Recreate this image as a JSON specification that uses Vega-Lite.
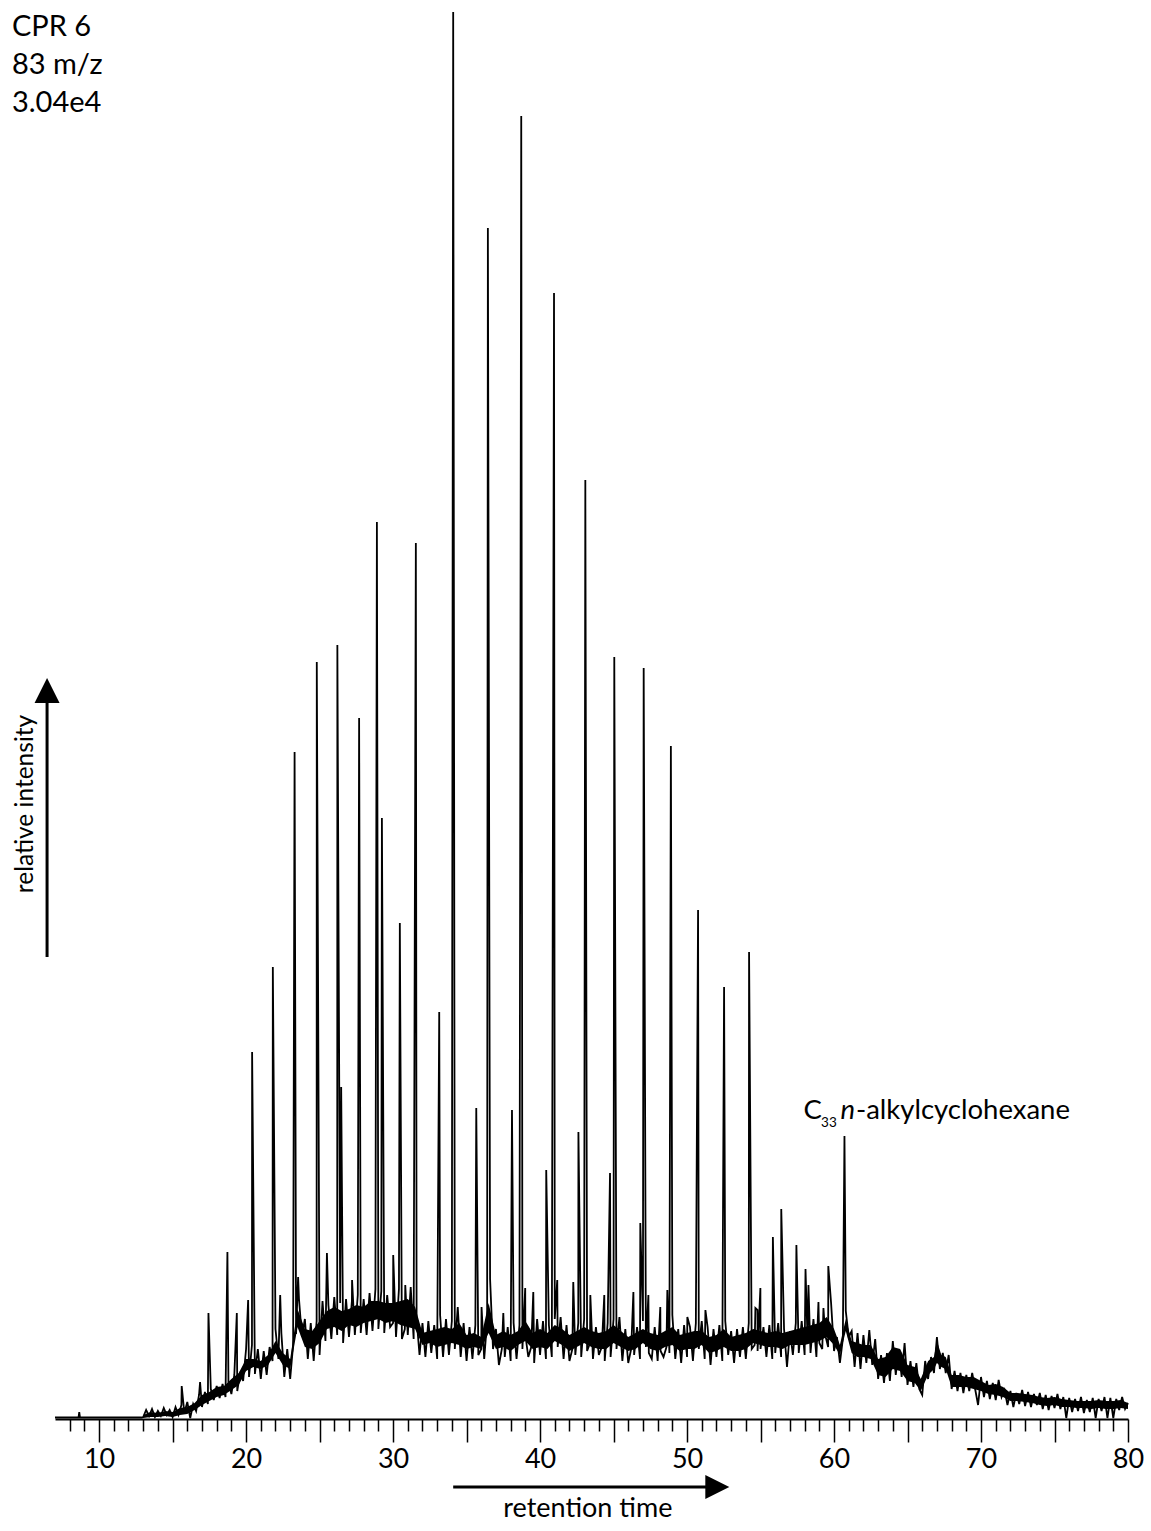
{
  "$schema": "https://vega.github.io/schema/vega-lite/v6.json",
  "width": 1073,
  "height": 1407,
  "autosize": {"type": "none"},
  "padding": {"left": 55, "top": 12, "right": 23, "bottom": 112},
  "background": "white",
  "config": {"view": {"stroke": null}, "font": "Lato"},
  "resolve": {"axis": {"x": "independent", "y": "independent"}},
  "datasets": {
    "core": [
      {"t": 13.0, "lo": 1, "hi": 4}, {"t": 13.5, "lo": 2, "hi": 7}, {"t": 14.0, "lo": 2, "hi": 6}, {"t": 14.5, "lo": 3, "hi": 8},
      {"t": 15.0, "lo": 2, "hi": 7}, {"t": 15.5, "lo": 4, "hi": 11}, {"t": 16.0, "lo": 5, "hi": 12}, {"t": 16.5, "lo": 9, "hi": 16},
      {"t": 17.0, "lo": 14, "hi": 24}, {"t": 17.5, "lo": 18, "hi": 27}, {"t": 18.0, "lo": 22, "hi": 32}, {"t": 18.5, "lo": 24, "hi": 33},
      {"t": 19.0, "lo": 29, "hi": 40}, {"t": 19.5, "lo": 34, "hi": 46}, {"t": 20.0, "lo": 48, "hi": 60}, {"t": 20.5, "lo": 52, "hi": 60},
      {"t": 21.0, "lo": 50, "hi": 58}, {"t": 21.5, "lo": 54, "hi": 64}, {"t": 22.0, "lo": 66, "hi": 78}, {"t": 22.5, "lo": 54, "hi": 66},
      {"t": 23.0, "lo": 50, "hi": 60}, {"t": 23.5, "lo": 92, "hi": 110}, {"t": 24.0, "lo": 72, "hi": 90}, {"t": 24.5, "lo": 70, "hi": 88},
      {"t": 25.0, "lo": 76, "hi": 98}, {"t": 25.5, "lo": 90, "hi": 108}, {"t": 26.0, "lo": 92, "hi": 112}, {"t": 26.5, "lo": 88, "hi": 108},
      {"t": 27.0, "lo": 94, "hi": 110}, {"t": 27.5, "lo": 92, "hi": 114}, {"t": 28.0, "lo": 96, "hi": 112}, {"t": 28.5, "lo": 98, "hi": 118},
      {"t": 29.0, "lo": 100, "hi": 118}, {"t": 29.5, "lo": 96, "hi": 116}, {"t": 30.0, "lo": 98, "hi": 116}, {"t": 30.5, "lo": 94, "hi": 118},
      {"t": 31.0, "lo": 92, "hi": 120}, {"t": 31.5, "lo": 90, "hi": 112}, {"t": 32.0, "lo": 74, "hi": 86}, {"t": 32.5, "lo": 76, "hi": 88},
      {"t": 33.0, "lo": 72, "hi": 90}, {"t": 33.5, "lo": 74, "hi": 92}, {"t": 34.0, "lo": 76, "hi": 90}, {"t": 34.5, "lo": 74, "hi": 96},
      {"t": 35.0, "lo": 70, "hi": 84}, {"t": 35.5, "lo": 72, "hi": 86}, {"t": 36.0, "lo": 70, "hi": 82}, {"t": 36.5, "lo": 86, "hi": 116},
      {"t": 37.0, "lo": 70, "hi": 84}, {"t": 37.5, "lo": 72, "hi": 88}, {"t": 38.0, "lo": 68, "hi": 84}, {"t": 38.5, "lo": 74, "hi": 88},
      {"t": 39.0, "lo": 78, "hi": 98}, {"t": 39.5, "lo": 70, "hi": 86}, {"t": 40.0, "lo": 72, "hi": 90}, {"t": 40.5, "lo": 70, "hi": 86},
      {"t": 41.0, "lo": 78, "hi": 94}, {"t": 41.5, "lo": 74, "hi": 90}, {"t": 42.0, "lo": 68, "hi": 84}, {"t": 42.5, "lo": 72, "hi": 88},
      {"t": 43.0, "lo": 76, "hi": 92}, {"t": 43.5, "lo": 72, "hi": 88}, {"t": 44.0, "lo": 70, "hi": 86}, {"t": 44.5, "lo": 70, "hi": 88},
      {"t": 45.0, "lo": 76, "hi": 94}, {"t": 45.5, "lo": 72, "hi": 88}, {"t": 46.0, "lo": 68, "hi": 82}, {"t": 46.5, "lo": 70, "hi": 86},
      {"t": 47.0, "lo": 76, "hi": 90}, {"t": 47.5, "lo": 70, "hi": 86}, {"t": 48.0, "lo": 68, "hi": 84}, {"t": 48.5, "lo": 72, "hi": 88},
      {"t": 49.0, "lo": 74, "hi": 92}, {"t": 49.5, "lo": 68, "hi": 84}, {"t": 50.0, "lo": 70, "hi": 86}, {"t": 50.5, "lo": 70, "hi": 88},
      {"t": 51.0, "lo": 74, "hi": 88}, {"t": 51.5, "lo": 66, "hi": 82}, {"t": 52.0, "lo": 68, "hi": 84}, {"t": 52.5, "lo": 72, "hi": 90},
      {"t": 53.0, "lo": 68, "hi": 82}, {"t": 53.5, "lo": 68, "hi": 84}, {"t": 54.0, "lo": 70, "hi": 86}, {"t": 54.5, "lo": 76, "hi": 90},
      {"t": 55.0, "lo": 74, "hi": 88}, {"t": 55.5, "lo": 72, "hi": 86}, {"t": 56.0, "lo": 72, "hi": 88}, {"t": 56.5, "lo": 70, "hi": 86},
      {"t": 57.0, "lo": 74, "hi": 88}, {"t": 57.5, "lo": 74, "hi": 90}, {"t": 58.0, "lo": 74, "hi": 92}, {"t": 58.5, "lo": 76, "hi": 94},
      {"t": 59.0, "lo": 78, "hi": 96}, {"t": 59.5, "lo": 82, "hi": 102}, {"t": 60.0, "lo": 74, "hi": 90}, {"t": 60.4, "lo": 64, "hi": 74},
      {"t": 60.8, "lo": 88, "hi": 100}, {"t": 61.2, "lo": 66, "hi": 78}, {"t": 61.6, "lo": 62, "hi": 76}, {"t": 62.0, "lo": 62, "hi": 74},
      {"t": 62.5, "lo": 60, "hi": 74}, {"t": 63.0, "lo": 44, "hi": 60}, {"t": 63.5, "lo": 42, "hi": 62}, {"t": 64.0, "lo": 50, "hi": 72},
      {"t": 64.5, "lo": 48, "hi": 70}, {"t": 65.0, "lo": 38, "hi": 54}, {"t": 65.5, "lo": 36, "hi": 52}, {"t": 65.9, "lo": 28, "hi": 40},
      {"t": 66.4, "lo": 44, "hi": 58}, {"t": 66.8, "lo": 50, "hi": 62}, {"t": 67.0, "lo": 56, "hi": 78}, {"t": 67.3, "lo": 52, "hi": 64},
      {"t": 67.6, "lo": 50, "hi": 62}, {"t": 68.0, "lo": 32, "hi": 44}, {"t": 68.5, "lo": 32, "hi": 44}, {"t": 69.0, "lo": 32, "hi": 42},
      {"t": 69.5, "lo": 30, "hi": 42}, {"t": 70.0, "lo": 28, "hi": 38}, {"t": 70.5, "lo": 25, "hi": 34}, {"t": 71.0, "lo": 24, "hi": 35},
      {"t": 71.5, "lo": 22, "hi": 32}, {"t": 72.0, "lo": 18, "hi": 26}, {"t": 72.5, "lo": 18, "hi": 26}, {"t": 73.0, "lo": 17, "hi": 25},
      {"t": 73.5, "lo": 16, "hi": 24}, {"t": 74.0, "lo": 14, "hi": 22}, {"t": 74.5, "lo": 13, "hi": 21}, {"t": 75.0, "lo": 14, "hi": 22},
      {"t": 75.5, "lo": 12, "hi": 20}, {"t": 76.0, "lo": 12, "hi": 19}, {"t": 76.5, "lo": 11, "hi": 18}, {"t": 77.0, "lo": 11, "hi": 18},
      {"t": 77.5, "lo": 10, "hi": 18}, {"t": 78.0, "lo": 11, "hi": 19}, {"t": 78.5, "lo": 10, "hi": 18}, {"t": 79.0, "lo": 10, "hi": 18},
      {"t": 79.5, "lo": 11, "hi": 19}, {"t": 80.0, "lo": 10, "hi": 16}
    ],
    "trace": [
      {"t": 7.0, "v": 1.5}, {"t": 8.6, "v": 1.5}, {"t": 8.65, "v": 7}, {"t": 8.7, "v": 1.5}, {"t": 12.9, "v": 1.5},
      {"t": 13.0, "v": 2}, {"t": 13.2, "v": 9}, {"t": 13.4, "v": 3}, {"t": 13.6, "v": 10}, {"t": 13.8, "v": 2},
      {"t": 14.0, "v": 8}, {"t": 14.2, "v": 3}, {"t": 14.4, "v": 11}, {"t": 14.6, "v": 4}, {"t": 14.8, "v": 9},
      {"t": 15.0, "v": 2}, {"t": 15.2, "v": 12}, {"t": 15.4, "v": 4}, {"t": 15.6, "v": 14}, {"t": 15.62, "v": 33},
      {"t": 15.8, "v": 6}, {"t": 16.0, "v": 17}, {"t": 16.2, "v": 1}, {"t": 16.4, "v": 15}, {"t": 16.6, "v": 8},
      {"t": 16.8, "v": 24}, {"t": 16.87, "v": 37}, {"t": 17.0, "v": 12}, {"t": 17.2, "v": 27}, {"t": 17.4, "v": 15},
      {"t": 17.44, "v": 106}, {"t": 17.6, "v": 30}, {"t": 17.8, "v": 19}, {"t": 18.0, "v": 33}, {"t": 18.2, "v": 21},
      {"t": 18.4, "v": 35}, {"t": 18.6, "v": 22}, {"t": 18.73, "v": 167}, {"t": 18.8, "v": 37}, {"t": 19.0, "v": 25},
      {"t": 19.2, "v": 44}, {"t": 19.37, "v": 106}, {"t": 19.4, "v": 28}, {"t": 19.6, "v": 47}, {"t": 19.8, "v": 38},
      {"t": 20.0, "v": 70}, {"t": 20.14, "v": 119}, {"t": 20.2, "v": 42}, {"t": 20.4, "v": 74}, {"t": 20.41, "v": 367},
      {"t": 20.6, "v": 45}, {"t": 20.8, "v": 70}, {"t": 21.0, "v": 40}, {"t": 21.2, "v": 68}, {"t": 21.4, "v": 44},
      {"t": 21.6, "v": 72}, {"t": 21.8, "v": 58}, {"t": 21.82, "v": 452}, {"t": 22.0, "v": 90}, {"t": 22.2, "v": 60},
      {"t": 22.32, "v": 124}, {"t": 22.4, "v": 86}, {"t": 22.6, "v": 42}, {"t": 22.8, "v": 70}, {"t": 23.0, "v": 40},
      {"t": 23.2, "v": 74}, {"t": 23.3, "v": 667}, {"t": 23.4, "v": 85}, {"t": 23.54, "v": 142}, {"t": 23.6, "v": 120},
      {"t": 23.8, "v": 82}, {"t": 24.0, "v": 100}, {"t": 24.2, "v": 60}, {"t": 24.4, "v": 96}, {"t": 24.6, "v": 58},
      {"t": 24.8, "v": 98}, {"t": 24.81, "v": 757}, {"t": 25.0, "v": 64}, {"t": 25.2, "v": 118}, {"t": 25.4, "v": 78},
      {"t": 25.5, "v": 166}, {"t": 25.6, "v": 114}, {"t": 25.8, "v": 80}, {"t": 26.0, "v": 122}, {"t": 26.2, "v": 84},
      {"t": 26.21, "v": 774}, {"t": 26.4, "v": 116}, {"t": 26.47, "v": 332}, {"t": 26.6, "v": 76}, {"t": 26.8, "v": 120},
      {"t": 27.0, "v": 82}, {"t": 27.2, "v": 118}, {"t": 27.21, "v": 139}, {"t": 27.4, "v": 84}, {"t": 27.6, "v": 124},
      {"t": 27.69, "v": 701}, {"t": 27.8, "v": 86}, {"t": 28.0, "v": 120}, {"t": 28.2, "v": 84}, {"t": 28.4, "v": 126},
      {"t": 28.6, "v": 88}, {"t": 28.8, "v": 130}, {"t": 28.9, "v": 897}, {"t": 29.0, "v": 90}, {"t": 29.2, "v": 128},
      {"t": 29.24, "v": 601}, {"t": 29.4, "v": 86}, {"t": 29.6, "v": 124}, {"t": 29.8, "v": 92}, {"t": 30.0, "v": 96},
      {"t": 30.01, "v": 164}, {"t": 30.2, "v": 82}, {"t": 30.4, "v": 130}, {"t": 30.46, "v": 496}, {"t": 30.6, "v": 80},
      {"t": 30.8, "v": 90}, {"t": 30.83, "v": 134}, {"t": 31.0, "v": 84}, {"t": 31.2, "v": 132}, {"t": 31.4, "v": 80},
      {"t": 31.55, "v": 876}, {"t": 31.6, "v": 100}, {"t": 31.8, "v": 64}, {"t": 32.0, "v": 96}, {"t": 32.2, "v": 62},
      {"t": 32.4, "v": 98}, {"t": 32.6, "v": 66}, {"t": 32.8, "v": 94}, {"t": 33.0, "v": 60}, {"t": 33.14, "v": 407},
      {"t": 33.2, "v": 104}, {"t": 33.4, "v": 62}, {"t": 33.6, "v": 100}, {"t": 33.8, "v": 64}, {"t": 34.0, "v": 98},
      {"t": 34.09, "v": 1407}, {"t": 34.2, "v": 70}, {"t": 34.4, "v": 112}, {"t": 34.6, "v": 62}, {"t": 34.8, "v": 96},
      {"t": 35.0, "v": 58}, {"t": 35.2, "v": 92}, {"t": 35.4, "v": 60}, {"t": 35.6, "v": 94}, {"t": 35.66, "v": 311},
      {"t": 35.8, "v": 64}, {"t": 36.0, "v": 70}, {"t": 36.02, "v": 112}, {"t": 36.2, "v": 60}, {"t": 36.4, "v": 98},
      {"t": 36.45, "v": 1191}, {"t": 36.6, "v": 140}, {"t": 36.8, "v": 70}, {"t": 37.0, "v": 90}, {"t": 37.2, "v": 54},
      {"t": 37.4, "v": 70}, {"t": 37.5, "v": 106}, {"t": 37.6, "v": 62}, {"t": 37.8, "v": 92}, {"t": 38.0, "v": 58},
      {"t": 38.09, "v": 309}, {"t": 38.2, "v": 96}, {"t": 38.4, "v": 60}, {"t": 38.6, "v": 94}, {"t": 38.72, "v": 1303},
      {"t": 38.8, "v": 70}, {"t": 38.99, "v": 131}, {"t": 39.0, "v": 84}, {"t": 39.2, "v": 62}, {"t": 39.4, "v": 72},
      {"t": 39.54, "v": 127}, {"t": 39.6, "v": 56}, {"t": 39.8, "v": 100}, {"t": 40.0, "v": 64}, {"t": 40.2, "v": 98},
      {"t": 40.4, "v": 60}, {"t": 40.42, "v": 249}, {"t": 40.6, "v": 94}, {"t": 40.8, "v": 62}, {"t": 40.95, "v": 1126},
      {"t": 41.0, "v": 100}, {"t": 41.17, "v": 139}, {"t": 41.2, "v": 72}, {"t": 41.4, "v": 102}, {"t": 41.6, "v": 60},
      {"t": 41.8, "v": 94}, {"t": 42.0, "v": 58}, {"t": 42.2, "v": 70}, {"t": 42.26, "v": 137}, {"t": 42.4, "v": 64},
      {"t": 42.6, "v": 96}, {"t": 42.61, "v": 287}, {"t": 42.8, "v": 62}, {"t": 43.0, "v": 100}, {"t": 43.08, "v": 939},
      {"t": 43.2, "v": 68}, {"t": 43.4, "v": 76}, {"t": 43.42, "v": 124}, {"t": 43.6, "v": 60}, {"t": 43.8, "v": 92},
      {"t": 44.0, "v": 64}, {"t": 44.2, "v": 72}, {"t": 44.37, "v": 124}, {"t": 44.4, "v": 58}, {"t": 44.6, "v": 96},
      {"t": 44.76, "v": 246}, {"t": 44.8, "v": 62}, {"t": 45.0, "v": 100}, {"t": 45.05, "v": 762}, {"t": 45.2, "v": 70},
      {"t": 45.4, "v": 102}, {"t": 45.6, "v": 58}, {"t": 45.8, "v": 90}, {"t": 46.0, "v": 56}, {"t": 46.2, "v": 70},
      {"t": 46.35, "v": 127}, {"t": 46.4, "v": 64}, {"t": 46.6, "v": 92}, {"t": 46.8, "v": 60}, {"t": 46.82, "v": 196},
      {"t": 47.0, "v": 98}, {"t": 47.05, "v": 751}, {"t": 47.2, "v": 72}, {"t": 47.37, "v": 124}, {"t": 47.4, "v": 66},
      {"t": 47.6, "v": 60}, {"t": 47.8, "v": 92}, {"t": 48.0, "v": 58}, {"t": 48.18, "v": 112}, {"t": 48.2, "v": 68},
      {"t": 48.4, "v": 62}, {"t": 48.6, "v": 72}, {"t": 48.66, "v": 129}, {"t": 48.8, "v": 66}, {"t": 48.9, "v": 673},
      {"t": 49.0, "v": 104}, {"t": 49.2, "v": 60}, {"t": 49.4, "v": 90}, {"t": 49.6, "v": 56}, {"t": 49.8, "v": 94},
      {"t": 50.0, "v": 62}, {"t": 50.02, "v": 102}, {"t": 50.2, "v": 92}, {"t": 50.4, "v": 58}, {"t": 50.6, "v": 96},
      {"t": 50.75, "v": 509}, {"t": 50.8, "v": 70}, {"t": 51.0, "v": 98}, {"t": 51.2, "v": 60}, {"t": 51.25, "v": 109},
      {"t": 51.4, "v": 92}, {"t": 51.6, "v": 54}, {"t": 51.8, "v": 90}, {"t": 52.0, "v": 62}, {"t": 52.2, "v": 94},
      {"t": 52.4, "v": 58}, {"t": 52.52, "v": 432}, {"t": 52.6, "v": 98}, {"t": 52.8, "v": 64}, {"t": 53.0, "v": 88},
      {"t": 53.2, "v": 56}, {"t": 53.4, "v": 90}, {"t": 53.6, "v": 62}, {"t": 53.8, "v": 92}, {"t": 54.0, "v": 60},
      {"t": 54.2, "v": 96}, {"t": 54.22, "v": 467}, {"t": 54.4, "v": 70}, {"t": 54.6, "v": 74}, {"t": 54.65, "v": 111},
      {"t": 54.79, "v": 109}, {"t": 54.8, "v": 68}, {"t": 54.99, "v": 131}, {"t": 55.0, "v": 70}, {"t": 55.2, "v": 92},
      {"t": 55.4, "v": 62}, {"t": 55.6, "v": 94}, {"t": 55.8, "v": 60}, {"t": 55.84, "v": 182}, {"t": 56.0, "v": 66},
      {"t": 56.2, "v": 96}, {"t": 56.4, "v": 62}, {"t": 56.41, "v": 210}, {"t": 56.6, "v": 90}, {"t": 56.8, "v": 52},
      {"t": 57.0, "v": 88}, {"t": 57.2, "v": 64}, {"t": 57.4, "v": 96}, {"t": 57.44, "v": 174}, {"t": 57.6, "v": 66},
      {"t": 57.8, "v": 98}, {"t": 58.0, "v": 64}, {"t": 58.06, "v": 150}, {"t": 58.2, "v": 78}, {"t": 58.26, "v": 134},
      {"t": 58.4, "v": 66}, {"t": 58.6, "v": 100}, {"t": 58.8, "v": 62}, {"t": 58.94, "v": 117}, {"t": 59.0, "v": 76},
      {"t": 59.2, "v": 70}, {"t": 59.28, "v": 111}, {"t": 59.4, "v": 84}, {"t": 59.6, "v": 72}, {"t": 59.61, "v": 153},
      {"t": 59.8, "v": 116}, {"t": 60.0, "v": 68}, {"t": 60.2, "v": 82}, {"t": 60.4, "v": 56}, {"t": 60.6, "v": 80},
      {"t": 60.71, "v": 283}, {"t": 60.8, "v": 108}, {"t": 61.0, "v": 82}, {"t": 61.2, "v": 88}, {"t": 61.4, "v": 52},
      {"t": 61.6, "v": 86}, {"t": 61.8, "v": 50}, {"t": 62.0, "v": 84}, {"t": 62.2, "v": 56}, {"t": 62.4, "v": 89},
      {"t": 62.6, "v": 54}, {"t": 62.8, "v": 80}, {"t": 63.0, "v": 40}, {"t": 63.2, "v": 64}, {"t": 63.4, "v": 36},
      {"t": 63.6, "v": 66}, {"t": 63.8, "v": 38}, {"t": 64.0, "v": 78}, {"t": 64.2, "v": 44}, {"t": 64.4, "v": 70},
      {"t": 64.6, "v": 42}, {"t": 64.8, "v": 76}, {"t": 65.0, "v": 34}, {"t": 65.2, "v": 58}, {"t": 65.4, "v": 32},
      {"t": 65.6, "v": 56}, {"t": 65.8, "v": 30}, {"t": 66.0, "v": 24}, {"t": 66.2, "v": 58}, {"t": 66.4, "v": 40},
      {"t": 66.6, "v": 62}, {"t": 66.8, "v": 46}, {"t": 67.0, "v": 82}, {"t": 67.2, "v": 50}, {"t": 67.4, "v": 66},
      {"t": 67.6, "v": 46}, {"t": 67.8, "v": 64}, {"t": 68.0, "v": 30}, {"t": 68.2, "v": 48}, {"t": 68.4, "v": 28},
      {"t": 68.6, "v": 46}, {"t": 68.8, "v": 26}, {"t": 69.0, "v": 44}, {"t": 69.2, "v": 28}, {"t": 69.4, "v": 46},
      {"t": 69.6, "v": 30}, {"t": 69.8, "v": 14}, {"t": 70.0, "v": 42}, {"t": 70.2, "v": 22}, {"t": 70.4, "v": 38},
      {"t": 70.6, "v": 20}, {"t": 70.8, "v": 36}, {"t": 71.0, "v": 19}, {"t": 71.2, "v": 39}, {"t": 71.4, "v": 22},
      {"t": 71.6, "v": 29}, {"t": 71.8, "v": 14}, {"t": 72.0, "v": 28}, {"t": 72.2, "v": 12}, {"t": 72.4, "v": 26},
      {"t": 72.6, "v": 15}, {"t": 72.8, "v": 29}, {"t": 73.0, "v": 13}, {"t": 73.2, "v": 27}, {"t": 73.4, "v": 12},
      {"t": 73.6, "v": 25}, {"t": 73.8, "v": 14}, {"t": 74.0, "v": 26}, {"t": 74.2, "v": 10}, {"t": 74.4, "v": 24},
      {"t": 74.6, "v": 9}, {"t": 74.8, "v": 23}, {"t": 75.0, "v": 11}, {"t": 75.2, "v": 25}, {"t": 75.4, "v": 10},
      {"t": 75.6, "v": 22}, {"t": 75.8, "v": 1}, {"t": 76.0, "v": 21}, {"t": 76.2, "v": 7}, {"t": 76.4, "v": 20},
      {"t": 76.6, "v": 8}, {"t": 76.8, "v": 22}, {"t": 77.0, "v": 6}, {"t": 77.2, "v": 19}, {"t": 77.4, "v": 7},
      {"t": 77.6, "v": 21}, {"t": 77.8, "v": 1}, {"t": 78.0, "v": 20}, {"t": 78.2, "v": 8}, {"t": 78.4, "v": 22},
      {"t": 78.6, "v": 1}, {"t": 78.8, "v": 21}, {"t": 79.0, "v": 1}, {"t": 79.2, "v": 20}, {"t": 79.4, "v": 9},
      {"t": 79.6, "v": 22}, {"t": 79.8, "v": 10}, {"t": 80.0, "v": 16}
    ]
  },
  "layer": [
    {
      "data": {"name": "trace"},
      "mark": {"type": "line", "color": "black", "strokeWidth": 1.8},
      "encoding": {
        "x": {
          "field": "t",
          "type": "quantitative",
          "scale": {"domain": [7, 80], "nice": false, "zero": false},
          "axis": {
            "title": null,
            "grid": false,
            "values": [8, 9, 10, 11, 12, 13, 14, 15, 16, 17, 18, 19, 20, 21, 22, 23, 24, 25, 26, 27, 28, 29, 30, 31, 32, 33, 34, 35, 36, 37, 38, 39, 40, 41, 42, 43, 44, 45, 46, 47, 48, 49, 50, 51, 52, 53, 54, 55, 56, 57, 58, 59, 60, 61, 62, 63, 64, 65, 66, 67, 68, 69, 70, 71, 72, 73, 74, 75, 76, 77, 78, 79, 80],
            "labelExpr": "datum.value % 10 === 0 ? datum.label : ''",
            "tickSize": {"condition": {"test": "datum.value % 5 === 0", "value": 23}, "value": 12},
            "tickColor": "black",
            "tickWidth": 1.5,
            "domainColor": "black",
            "domainWidth": 2,
            "labelFont": "Lato",
            "labelFontSize": 27,
            "labelColor": "black",
            "labelPadding": 4,
            "labelFlush": false,
            "labelOverlap": false
          }
        },
        "y": {
          "field": "v",
          "type": "quantitative",
          "scale": {"domain": [0, 1407], "nice": false},
          "axis": null
        }
      }
    },
    {
      "data": {"name": "core"},
      "mark": {"type": "area", "color": "black", "opacity": 1},
      "encoding": {
        "x": {"field": "t", "type": "quantitative", "axis": null},
        "y": {"field": "lo", "type": "quantitative", "axis": null},
        "y2": {"field": "hi"}
      }
    },
    {
      "data": {"values": [{}]},
      "mark": {"type": "text", "text": ["CPR 6", "83 m/z", "3.04e4"], "align": "left", "baseline": "alphabetic", "font": "Lato", "fontSize": 29, "lineHeight": 38, "color": "black"},
      "encoding": {"x": {"datum": 4.07, "type": "quantitative", "axis": null}, "y": {"datum": 1383, "type": "quantitative", "axis": null}}
    },
    {
      "data": {"values": [{}]},
      "mark": {"type": "rule", "color": "black", "strokeWidth": 3},
      "encoding": {"x": {"datum": 6.46, "type": "quantitative", "axis": null}, "y": {"datum": 462, "type": "quantitative", "axis": null}, "y2": {"datum": 716}}
    },
    {
      "data": {"values": [{}]},
      "mark": {"type": "point", "shape": "M-1,1L0,-1L1,1Z", "size": 625, "filled": true, "color": "black", "opacity": 1},
      "encoding": {"x": {"datum": 6.46, "type": "quantitative", "axis": null}, "y": {"datum": 728.5, "type": "quantitative", "axis": null}}
    },
    {
      "data": {"values": [{}]},
      "mark": {"type": "text", "text": "relative intensity", "angle": 270, "align": "center", "baseline": "alphabetic", "font": "Lato", "fontSize": 24.5, "color": "black"},
      "encoding": {"x": {"datum": 5.5, "type": "quantitative", "axis": null}, "y": {"datum": 615, "type": "quantitative", "axis": null}}
    },
    {
      "data": {"values": [{}]},
      "mark": {"type": "rule", "color": "black", "strokeWidth": 3},
      "encoding": {"x": {"datum": 34.09, "type": "quantitative", "axis": null}, "x2": {"datum": 51.4}, "y": {"datum": -68, "type": "quantitative", "axis": null}}
    },
    {
      "data": {"values": [{}]},
      "mark": {"type": "point", "shape": "M-1,-1L1,0L-1,1Z", "size": 576, "filled": true, "color": "black", "opacity": 1},
      "encoding": {"x": {"datum": 52.06, "type": "quantitative", "axis": null}, "y": {"datum": -68, "type": "quantitative", "axis": null}}
    },
    {
      "data": {"values": [{}]},
      "mark": {"type": "text", "text": "retention time", "align": "center", "baseline": "alphabetic", "font": "Lato", "fontSize": 27, "color": "black"},
      "encoding": {"x": {"datum": 43.25, "type": "quantitative", "axis": null}, "y": {"datum": -98, "type": "quantitative", "axis": null}}
    },
    {
      "data": {"values": [{}]},
      "mark": {"type": "text", "text": "C", "align": "left", "baseline": "alphabetic", "font": "Lato", "fontSize": 27.5, "color": "black"},
      "encoding": {"x": {"datum": 57.92, "type": "quantitative", "axis": null}, "y": {"datum": 300, "type": "quantitative", "axis": null}}
    },
    {
      "data": {"values": [{}]},
      "mark": {"type": "text", "text": "33", "align": "left", "baseline": "alphabetic", "font": "Lato", "fontSize": 13.5, "color": "black"},
      "encoding": {"x": {"datum": 59.12, "type": "quantitative", "axis": null}, "y": {"datum": 292, "type": "quantitative", "axis": null}}
    },
    {
      "data": {"values": [{}]},
      "mark": {"type": "text", "text": "n", "align": "left", "baseline": "alphabetic", "font": "Lato", "fontSize": 27.5, "fontStyle": "italic", "color": "black"},
      "encoding": {"x": {"datum": 60.44, "type": "quantitative", "axis": null}, "y": {"datum": 300, "type": "quantitative", "axis": null}}
    },
    {
      "data": {"values": [{}]},
      "mark": {"type": "text", "text": "-alkylcyclohexane", "align": "left", "baseline": "alphabetic", "font": "Lato", "fontSize": 27.5, "color": "black"},
      "encoding": {"x": {"datum": 61.49, "type": "quantitative", "axis": null}, "y": {"datum": 300, "type": "quantitative", "axis": null}}
    }
  ]
}
